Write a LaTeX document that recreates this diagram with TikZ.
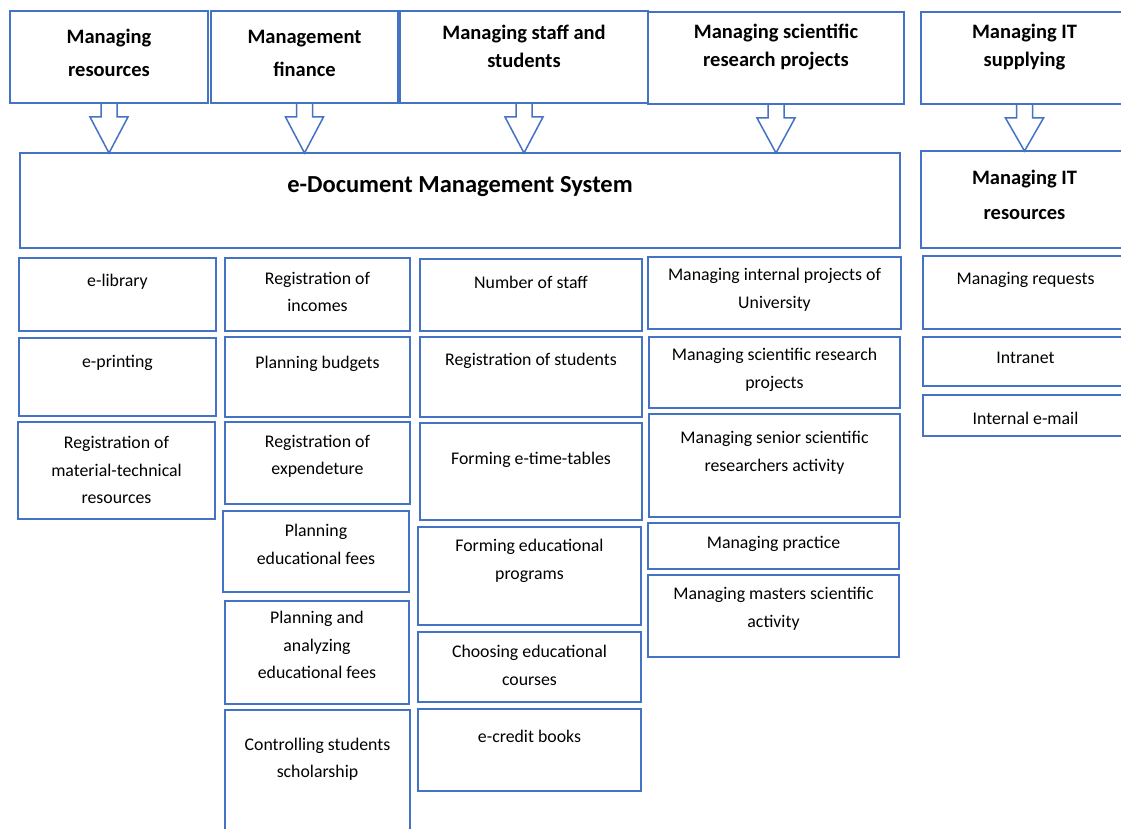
\documentclass[tikz,border=0pt]{standalone}
\usepackage{fontspec}
\setmainfont{Carlito}
\usetikzlibrary{calc}
\definecolor{bl}{HTML}{4472C4}
\tikzset{
 box/.style={draw=bl, line width=1.5pt, inner sep=0pt, outer sep=0pt, fill=white},
 conn/.style={draw=bl, line width=1.5pt, line join=miter},
 hdA/.style={font=\fontsize{20.5}{33}\selectfont\bfseries, align=center, inner sep=0pt},
 hdB/.style={font=\fontsize{20.5}{28}\selectfont\bfseries, align=center, inner sep=0pt},
 hdC/.style={font=\fontsize{20.5}{35}\selectfont\bfseries, align=center, inner sep=0pt},
 ttl/.style={font=\fontsize{24.5}{28}\selectfont\bfseries, align=center, inner sep=0pt},
 bd/.style={font=\fontsize{17.8}{27.5}\selectfont, align=center, inner sep=0pt},
}
\newcommand\bx[5]{\node[box, minimum width={(#4)-(#2)}, minimum height={(#5)-(#3)}] (#1) at ({((#2)+(#4))/2},{((#3)+(#5))/2}) {};}
\newcommand\barrow[2]{\draw[conn] ($(#1.south)+(-8,0)$) -- ++(0,14) -- ++(-11,0) -- (#1.south |- #2.north) -- ($(#1.south)+(19,14)$) -- ++(-11,0) -- ($(#1.south)+(8,0)$);}
\begin{document}
\begin{tikzpicture}[x=1pt,y=-1pt]
\useasboundingbox (0,0) rectangle (1121,829);
\fill[white] (0,0) rectangle (1121,829);
\clip (0,0) rectangle (1121,829);
% top boxes
\bx{t1}{10}{11}{208}{103}
\bx{t2}{211}{11}{398}{103}
\bx{t3}{400}{11}{648}{103}
\bx{t4}{648}{12}{904}{104}
\bx{t5}{921}{12}{1128}{104}
\node[hdA] (t1t) at (t1.center |- 0,53) {Managing\\resources};
\node[hdA] (t2t) at (t2.center |- 0,53) {Management\\finance};
\node[hdB] (t3t) at (t3.center |- 0,46.5) {Managing staff and\\students};
\node[hdB] (t4t) at (t4.center |- 0,47) {Managing scientific\\research projects};
\node[hdB] (t5t) at (t5.center |- 0,47.5) {Managing IT\\supplying};
% main boxes
\bx{edms}{20}{153}{900}{248}
\node[ttl] (edmst) at (460,187) {e-Document Management System};
\bx{itres}{921}{151}{1128}{248}
\node[hdC] (itrest) at (itres.center |- 0,194.5) {Managing IT\\resources};
% arrows
\barrow{t1}{edms}
\barrow{t2}{edms}
\barrow{t3}{edms}
\barrow{t4}{edms}
\barrow{t5}{itres}
% column 1
\bx{a1}{19}{258}{216}{331}
\node[bd] (a1t) at (a1.center |- 0,282) {e-library};
\bx{a2}{19}{338}{216}{416}
\node[bd] (a2t) at (a2.center |- 0,363) {e-printing};
\bx{a3}{18}{422}{215}{519}
\node[bd] (a3t) at (a3.center |- 0,470) {Registration of\\material-technical\\resources};
% column 2
\bx{b1}{225}{258}{410}{331}
\node[bd] (b1t) at (b1.center |- 0,292) {Registration of\\incomes};
\bx{b2}{225}{337}{410}{417}
\node[bd] (b2t) at (b2.center |- 0,364) {Planning budgets};
\bx{b3}{225}{422}{410}{504}
\node[bd] (b3t) at (b3.center |- 0,456.5) {Registration of\\expendeture};
\bx{b4}{223}{511}{409}{592}
\node[bd] (b4t) at (b4.center |- 0,544.5) {Planning\\educational fees};
\bx{b5}{225}{601}{409}{704}
\node[bd] (b5t) at (b5.center |- 0,645) {Planning and\\analyzing\\educational fees};
\bx{b6}{225}{710}{410}{845}
\node[bd] (b6t) at (b6.center |- 0,759) {Controlling students\\scholarship};
% column 3
\bx{c1}{420}{259}{642}{331}
\node[bd] (c1t) at (c1.center |- 0,282) {Number of staff};
\bx{c2}{420}{337}{642}{417}
\node[bd] (c2t) at (c2.center |- 0,361) {Registration of students};
\bx{c3}{420}{423}{642}{520}
\node[bd] (c3t) at (c3.center |- 0,460) {Forming e-time-tables};
\bx{c4}{418}{527}{641}{625}
\node[bd] (c4t) at (c4.center |- 0,561) {Forming educational\\programs};
\bx{c5}{418}{632}{641}{702}
\node[bd] (c5t) at (c5.center |- 0,665.5) {Choosing educational\\courses};
\bx{c6}{418}{709}{641}{791}
\node[bd] (c6t) at (c6.center |- 0,736) {e-credit books};
% column 4
\bx{d1}{648}{257}{901}{329}
\node[bd] (d1t) at (d1.center |- 0,290) {Managing internal projects of\\University};
\bx{d2}{649}{337}{900}{408}
\node[bd] (d2t) at (d2.center |- 0,370) {Managing scientific research\\projects};
\bx{d3}{649}{414}{900}{517}
\node[bd] (d3t) at (d3.center |- 0,453) {Managing senior scientific\\researchers activity};
\bx{d4}{648}{523}{899}{569}
\node[bd] (d4t) at (d4.center |- 0,544) {Managing practice};
\bx{d5}{648}{575}{899}{657}
\node[bd] (d5t) at (d5.center |- 0,609) {Managing masters scientific\\activity};
% column 5
\bx{e1}{923}{256}{1128}{329}
\node[bd] (e1t) at (e1.center |- 0,280) {Managing requests};
\bx{e2}{923}{337}{1128}{386}
\node[bd] (e2t) at (e2.center |- 0,358) {Intranet};
\bx{e3}{923}{395}{1128}{436}
\node[bd] (e3t) at (e3.center |- 0,418) {Internal e-mail};
\end{tikzpicture}
\end{document}
